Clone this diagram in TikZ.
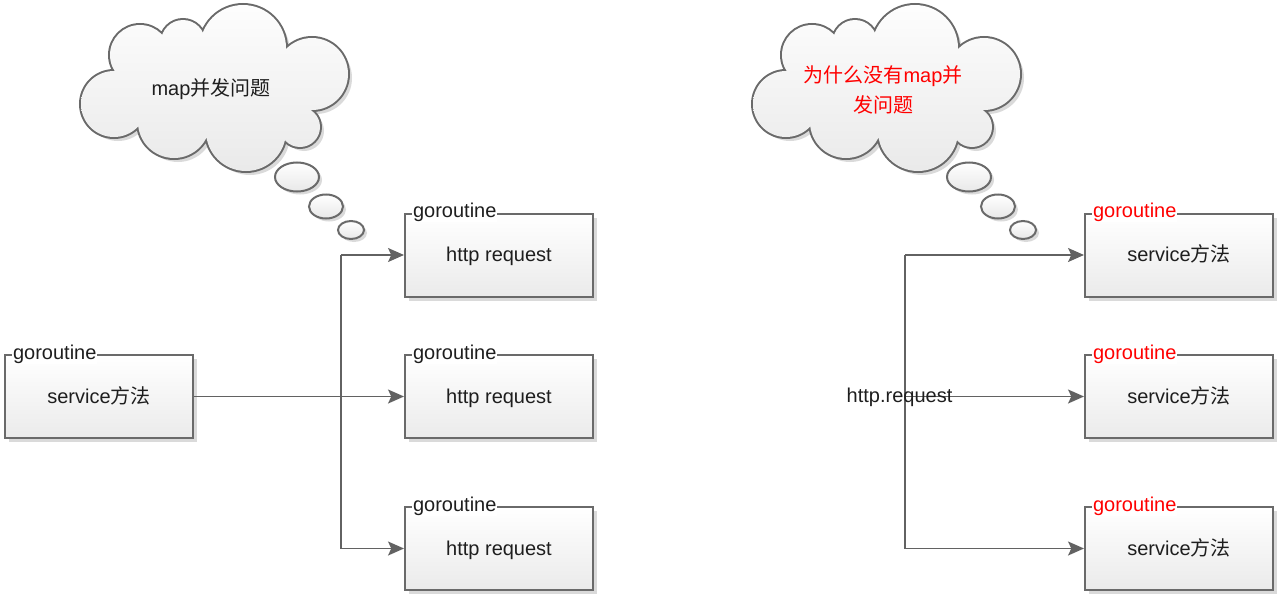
\documentclass[tikz,border=0pt]{standalone}
\usepackage{fontspec}
\setmainfont{Liberation Sans}
\newfontfamily\cjk{Noto Sans CJK SC}
\usetikzlibrary{arrows.meta,shadows}

\definecolor{linegray}{HTML}{626262}
\definecolor{bordergray}{HTML}{6A6A6A}
\definecolor{textdark}{HTML}{1E1E1E}
\definecolor{shadowgray}{HTML}{DADADA}

\def\cloudcircles{(114,-104) circle[radius=33] (140,-55) circle[radius=30] (183,-42) circle[radius=22] (243,-48) circle[radius=43] (312,-74) circle[radius=36] (300,-127) circle[radius=20] (246,-131) circle[radius=40] (174,-122) circle[radius=36]}
\def\cloudfiller{(210,-92) ellipse[x radius=85,y radius=42] (280,-100) circle[radius=22] (140,-95) circle[radius=25]}

\newcommand\drawmycloud[1]{%
  \begin{scope}[shift={(#1,0)}]
    \fill[shadowgray] [shift={(4,-4)}] \cloudcircles \cloudfiller;
    \draw[bordergray, line width=3pt] \cloudcircles;
    \begin{scope}
      \clip \cloudcircles \cloudfiller;
      \shade[top color=white, bottom color=black!9] (60,10) rectangle (370,-185);
    \end{scope}
    \foreach \cx/\cy/\rx/\ry in {297/177/22/14.5, 326/206.5/17/12, 351/230/13/9}{
      \fill[shadowgray] (\cx+3,-\cy-3) ellipse[x radius=\rx, y radius=\ry];
      \shade[draw=bordergray, line width=1.5pt, top color=white, bottom color=black!9]
        (\cx,-\cy) ellipse[x radius=\rx, y radius=\ry];
    }
  \end{scope}}

\begin{document}
\begin{tikzpicture}[x=0.75pt,y=0.75pt,
  box/.style={draw=bordergray, line width=1.5pt, top color=white, bottom color=black!8,
    minimum width=141pt, minimum height=62.25pt, inner sep=0pt,
    text height=13.5pt, text depth=3.2pt,
    font=\fontsize{15}{18}\selectfont, text=textdark,
    drop shadow={shadow xshift=3pt, shadow yshift=-3pt, fill=shadowgray, opacity=1}},
  gor/.style={anchor=base west, fill=white, inner sep=0.6pt,
    font=\fontsize{15}{18}\selectfont, text=textdark},
  gorred/.style={gor, text=red},
  conn/.style={draw=linegray, line width=1.4pt},
  arr/.style={conn, -{Stealth[length=12pt, width=10.5pt, inset=2.5pt]}},
  plain/.style={font=\fontsize{15}{18}\selectfont, text=textdark, inner sep=0pt}
]
\useasboundingbox (0,0) rectangle (1278,-596);

% clouds
\drawmycloud{0}
\drawmycloud{672}
\node[plain] (c1) at (211,-89) {map{\cjk 并发问题}};
\node[plain, text=red, align=center, font=\fontsize{15}{22.5}\selectfont] (c2) at (883,-90)
  {{\cjk 为什么没有}map{\cjk 并}\\{\cjk 发问题}};

% left side
\node[box] (s) at (99,-396.5) {service{\cjk 方法}};
\node[box] (h1) at (499,-255) {http request};
\node[box] (h2) at (499,-396.5) {http request};
\node[box] (h3) at (499,-548.5) {http request};
\foreach \n in {s,h1,h2,h3}{
  \node[gor] (g\n) at ([shift={(8,-5)}]\n.north west) {goroutine};
}
\coordinate (lt) at (341,-255);
\coordinate (lb) at (341,-548.5);
\draw[conn] (lt) -- (lb);
\draw[arr] (lt) -- (h1.west);
\draw[arr] (s.east) -- (h2.west);
\draw[arr] (lb) -- (h3.west);

% right side
\node[box] (r1) at (1179,-255) {service{\cjk 方法}};
\node[box] (r2) at (1179,-396.5) {service{\cjk 方法}};
\node[box] (r3) at (1179,-548.5) {service{\cjk 方法}};
\foreach \n in {r1,r2,r3}{
  \node[gorred] (g\n) at ([shift={(8,-5)}]\n.north west) {goroutine};
}
\coordinate (rt) at (905,-255);
\coordinate (rm) at (905,-396.5);
\coordinate (rb) at (905,-548.5);
\draw[conn] (rt) -- (rb);
\draw[arr] (rt) -- (r1.west);
\draw[arr] (rm) -- (r2.west);
\draw[arr] (rb) -- (r3.west);
\node[plain] (hr) at (899.5,-397) {http.request};
\end{tikzpicture}
\end{document}
